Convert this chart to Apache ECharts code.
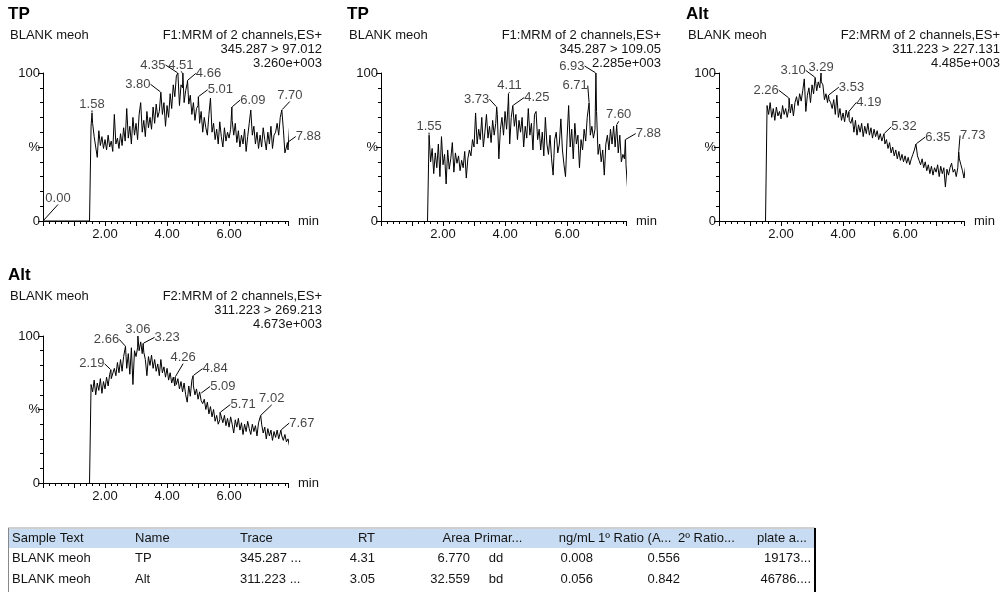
<!DOCTYPE html>
<html><head><meta charset="utf-8">
<script src="https://cdn.jsdelivr.net/npm/echarts@6/dist/echarts.min.js"></script>
<style>html,body{margin:0;padding:0;background:#fff}#c{width:1003px;height:596px}</style>
</head><body><div id="c"></div>
<script>
// ---------- DATA ----------
const scanTimes = [
1.50,1.55,1.60,1.65,1.70,1.75,1.80,1.85,1.90,1.95,
2.00,2.05,2.10,2.15,2.20,2.25,2.30,2.35,2.40,2.45,
2.50,2.55,2.60,2.65,2.70,2.75,2.80,2.85,2.90,2.95,
3.00,3.05,3.10,3.15,3.20,3.25,3.30,3.35,3.40,3.45,
3.50,3.55,3.60,3.65,3.70,3.75,3.80,3.85,3.90,3.95,
4.00,4.05,4.10,4.15,4.20,4.25,4.30,4.35,4.40,4.45,
4.50,4.55,4.60,4.65,4.70,4.75,4.80,4.85,4.90,4.95,
5.00,5.05,5.10,5.15,5.20,5.25,5.30,5.35,5.40,5.45,
5.50,5.55,5.60,5.65,5.70,5.75,5.80,5.85,5.90,5.95,
6.00,6.05,6.10,6.15,6.20,6.25,6.30,6.35,6.40,6.45,
6.50,6.55,6.60,6.65,6.70,6.75,6.80,6.85,6.90,6.95,
7.00,7.05,7.10,7.15,7.20,7.25,7.30,7.35,7.40,7.45,
7.50,7.55,7.60,7.65,7.70,7.75,7.80,7.85,7.90,7.95];

// TP 345.287 > 97.012 (% of 3.260e+003)
const tp97 = [
0,64,66,57,50,43,61,51,57,49,
55,48,58,50,54,47,72,52,56,49,
59,51,63,54,76,56,64,52,70,58,
66,55,72,80,60,68,57,74,63,70,
62,77,66,79,70,74,87,72,80,64,
78,70,86,76,92,84,98,100,78,92,
90,80,88,93,79,85,72,80,68,76,
78,66,74,60,70,63,58,72,83,60,
66,55,62,52,67,57,50,63,54,60,
56,62,68,58,66,53,61,50,58,52,
62,47,57,66,75,58,64,52,60,49,
58,50,63,55,48,60,52,64,49,58,
60,66,58,70,75,62,46,50,48,64];
const tp97PeakTimes  = [0.00,1.58,3.80,4.35,4.51,4.66,5.01,6.09,7.70,7.88];
const tp97PeakValues = [0,73,87,100,100,95,84,77,75,53];

// TP 345.287 > 109.05 (% of 2.285e+003)
const tp109 = [
0,58,40,49,32,46,36,52,30,57,
38,45,25,48,35,42,53,33,46,39,
44,34,41,36,47,29,42,48,44,55,
50,73,52,62,55,70,50,60,72,56,
64,53,68,58,66,72,42,62,70,58,
74,62,80,52,70,78,64,72,55,68,
60,70,50,64,56,76,58,66,48,72,
74,55,62,48,60,44,70,52,45,58,
42,31,55,60,46,52,69,48,38,30,
56,78,50,62,42,66,52,58,36,55,
48,62,54,70,70,58,64,56,62,74,
45,52,40,48,31,52,58,48,62,52,
64,50,65,46,58,40,45,42,38,22];
const tp109PeakTimes  = [1.55,3.73,4.11,4.25,6.71,6.93,7.60,7.88];
const tp109PeakValues = [58,77,86,78,80,100,65,55];

// Alt 311.223 > 227.131 (% of 4.485e+003)
const alt227 = [
0,78,72,80,70,76,68,77,71,74,
69,78,72,76,70,76,73,79,71,80,
84,78,86,81,88,96,74,85,90,80,
92,86,97,88,94,90,94,92,82,86,
80,82,80,76,82,72,85,70,76,68,
73,67,75,70,68,66,70,60,68,58,
65,60,66,57,64,59,66,58,63,56,
62,57,61,55,59,54,54,52,55,49,
53,46,50,44,48,42,47,41,45,40,
44,39,43,38,42,45,48,52,44,41,
38,42,36,40,34,38,32,37,31,36,
33,38,30,37,32,36,23,35,31,36,
39,33,35,30,36,42,38,34,29,37];
const alt227PeakTimes  = [2.26,3.10,3.29,3.53,4.19,5.32,6.35,7.73];
const alt227PeakValues = [83,97,100,85,74,59,52,47];

// Alt 311.223 > 269.213 (% of 4.673e+003)
const alt269 = [
0,67,62,70,60,68,63,71,61,69,
64,72,66,74,71,70,78,73,82,75,
84,76,86,85,78,88,74,92,67,90,
86,92,90,96,88,89,84,73,86,80,
87,78,84,76,81,73,84,75,79,72,
78,70,75,68,72,66,67,71,64,69,
62,68,60,55,66,59,70,66,60,64,
57,62,56,54,57,50,55,47,52,45,
50,42,46,40,43,45,41,46,39,44,
38,45,40,34,43,38,44,36,41,33,
40,35,42,37,33,40,35,39,32,41,
40,40,34,38,30,37,32,36,29,35,
31,36,30,31,32,29,33,28,30,25];
const alt269PeakTimes  = [2.19,2.66,3.06,3.23,4.26,4.84,5.09,5.71,7.02,7.67];
const alt269PeakValues = [77,93,100,95,72,73,61,48,46,36];

const xTickValues = [2, 4, 6];
const xTickLabels = ['2.00', '4.00', '6.00'];
const yTickValues = [0, 50, 100];
const yTickLabels = ['0', '%', '100'];

const panelTitles = ['TP', 'TP', 'Alt', 'Alt'];
const panelSamples = ['BLANK meoh', 'BLANK meoh', 'BLANK meoh', 'BLANK meoh'];
const panelFunctions = ['F1:MRM of 2 channels,ES+', 'F1:MRM of 2 channels,ES+', 'F2:MRM of 2 channels,ES+', 'F2:MRM of 2 channels,ES+'];
const panelTransitions = ['345.287 > 97.012', '345.287 > 109.05', '311.223 > 227.131', '311.223 > 269.213'];
const panelIntensities = ['3.260e+003', '2.285e+003', '4.485e+003', '4.673e+003'];

const tableHeader = ['Sample Text', 'Name', 'Trace', 'RT', 'Area', 'Primar...', 'ng/mL', '1º Ratio (A...', '2º Ratio...', 'plate a...'];
const tableRows = [
  ['BLANK meoh', 'TP', '345.287 ...', '4.31', '6.770', 'dd', '0.008', '0.556', '', '19173...'],
  ['BLANK meoh', 'Alt', '311.223 ...', '3.05', '32.559', 'bd', '0.056', '0.842', '', '46786....']
];

// ---------- LAYOUT / STYLE ----------
const FONT = "'Liberation Sans', Arial, sans-serif";
const TXT = '#141414';
const traces = [
  {values: tp97, pt: tp97PeakTimes, pv: tp97PeakValues},
  {values: tp109, pt: tp109PeakTimes, pv: tp109PeakValues},
  {values: alt227, pt: alt227PeakTimes, pv: alt227PeakValues},
  {values: alt269, pt: alt269PeakTimes, pv: alt269PeakValues}
];
const gridPos = [
  {left: 43, top: 73, height: 148, titleX: 8, rightX: 322, headY: 14},
  {left: 381, top: 73, height: 148, titleX: 347, rightX: 661, headY: 14},
  {left: 719, top: 73, height: 148, titleX: 686, rightX: 1000, headY: 14},
  {left: 43, top: 336, height: 147, titleX: 8, rightX: 322, headY: 275}
];
const PLOT_W = 245;
const labelOffsets = [
  [[15,-23],[0,-9],[-23,-8],[-25,-8],[-2,-8],[21,-7],[22,-7],[21,-7],[8,-15],[21,-6]],
  [[0,-9],[-20,-8],[1,-8],[24,-8],[-14,-17],[-24,-7],[2,-10],[23,-6]],
  [[-23,-8],[-22,-7],[0,-6],[23,-8],[20,-9],[20,-7],[22,-7],[14,-16]],
  [[-19,-6],[-19,-7],[0,-7],[24,-6],[8,-20],[22,-7],[22,-7],[23,-8],[11,-17],[21,-7]]
];
const tableCols = [
  {x: 12, align: 'left'}, {x: 135, align: 'left'}, {x: 240, align: 'left'},
  {x: 375, align: 'right'}, {x: 470, align: 'right'}, {x: 474, align: 'left', rowX: 496, rowAlign: 'center'},
  {x: 595, align: 'right', rowX: 593}, {x: 598, align: 'left', rowX: 680, rowAlign: 'right'},
  {x: 678, align: 'left'}, {x: 757, align: 'left', rowX: 811, rowAlign: 'right'}
];

function buildTrace(t) {
  const pts = scanTimes.map((x, i) => [x, t.values[i]]);
  t.pt.forEach((x, i) => {
    const j = pts.findIndex(p => Math.abs(p[0] - x) < 0.001);
    if (j >= 0) pts[j] = [x, t.pv[i]]; else pts.push([x, t.pv[i]]);
  });
  pts.sort((a, b) => a[0] - b[0]);
  return pts;
}

const grids = [], xAxes = [], yAxes = [], series = [], graphics = [];
traces.forEach((t, i) => {
  const g = gridPos[i];
  grids.push({left: g.left, top: g.top, width: PLOT_W, height: g.height, outerBoundsMode: 'none', containLabel: false});
  xAxes.push({
    type: 'value', gridIndex: i, min: 0, max: 7.9, interval: 1,
    axisLine: {show: true, onZero: false, lineStyle: {color: '#000', width: 1}},
    axisTick: {show: true, length: 5, lineStyle: {color: '#000'}},
    minorTick: {show: true, splitNumber: 5, length: 3, lineStyle: {color: '#000'}},
    splitLine: {show: false}, minorSplitLine: {show: false},
    axisLabel: {interval: 0, margin: 7, color: TXT, fontSize: 13, fontFamily: FONT,
      formatter: v => { const k = xTickValues.findIndex(x => Math.abs(x - v) < 1e-6); return k >= 0 ? xTickLabels[k] : ''; }},
    name: 'min', nameLocation: 'end', nameGap: 10,
    nameTextStyle: {color: TXT, fontSize: 13, fontFamily: FONT, verticalAlign: 'middle'}
  });
  yAxes.push({
    type: 'value', gridIndex: i, min: 0, max: 100, interval: 50,
    axisLine: {show: true, lineStyle: {color: '#000', width: 1}},
    axisTick: {show: true, length: 5, lineStyle: {color: '#000'}},
    minorTick: {show: true, splitNumber: 5, length: 3, lineStyle: {color: '#000'}},
    splitLine: {show: false}, minorSplitLine: {show: false},
    axisLabel: {margin: 3, color: TXT, fontSize: 13, fontFamily: FONT,
      formatter: v => { const k = yTickValues.indexOf(v); return k >= 0 ? yTickLabels[k] : ''; }}
  });
  series.push({
    type: 'line', xAxisIndex: i, yAxisIndex: i, data: buildTrace(t),
    symbol: 'none', showSymbol: false, clip: false, animation: false, silent: true,
    lineStyle: {color: '#000', width: 1}, z: 2
  });
  const offs = labelOffsets[i];
  series.push({
    type: 'scatter', xAxisIndex: i, yAxisIndex: i,
    data: t.pt.map((x, k) => [x, t.pv[k]]),
    symbol: 'circle', symbolSize: 1, itemStyle: {color: 'rgba(0,0,0,0)'},
    animation: false, silent: true, clip: false, z: 3,
    label: {show: true, position: 'top', formatter: p => p.value[0].toFixed(2),
      color: TXT, fontSize: 13, fontFamily: FONT},
    labelLine: {show: true, smooth: false, lineStyle: {color: '#000', width: 1}},
    labelLayout: p => {
      const o = offs[p.dataIndex] || [0, -9];
      const cx = p.rect.x + p.rect.width / 2, cy = p.rect.y + p.rect.height / 2;
      return {x: cx + o[0], y: cy + o[1], align: 'center', verticalAlign: 'middle', hideOverlap: false};
    }
  });
  // headers
  const hy = g.headY;
  graphics.push({type: 'text', style: {text: panelTitles[i], x: g.titleX, y: hy, font: 'bold 17px ' + FONT, fill: '#000', align: 'left', verticalAlign: 'middle'}});
  graphics.push({type: 'text', style: {text: panelSamples[i], x: g.titleX + 2, y: hy + 21, font: '13px ' + FONT, fill: TXT, align: 'left', verticalAlign: 'middle'}});
  graphics.push({type: 'text', style: {text: panelFunctions[i], x: g.rightX, y: hy + 21, font: '13px ' + FONT, fill: TXT, align: 'right', verticalAlign: 'middle'}});
  graphics.push({type: 'text', style: {text: panelTransitions[i], x: g.rightX, y: hy + 35, font: '13px ' + FONT, fill: TXT, align: 'right', verticalAlign: 'middle'}});
  graphics.push({type: 'text', style: {text: panelIntensities[i], x: g.rightX, y: hy + 49, font: '13px ' + FONT, fill: TXT, align: 'right', verticalAlign: 'middle'}});
});

// table
const TBL = {x0: 8, x1: 815, y0: 528, headH: 19, rowH: 21};
graphics.push({type: 'rect', shape: {x: TBL.x0 + 1, y: TBL.y0 + 1, width: TBL.x1 - TBL.x0 - 2, height: TBL.headH}, style: {fill: '#c7dcf3'}});
graphics.push({type: 'line', shape: {x1: TBL.x0, y1: TBL.y0, x2: TBL.x1, y2: TBL.y0}, style: {stroke: '#a0a0a0', lineWidth: 1}});
graphics.push({type: 'line', shape: {x1: TBL.x0 + 0.5, y1: TBL.y0, x2: TBL.x0 + 0.5, y2: 592}, style: {stroke: '#888', lineWidth: 1}});
graphics.push({type: 'line', shape: {x1: TBL.x1, y1: TBL.y0, x2: TBL.x1, y2: 592}, style: {stroke: '#000', lineWidth: 2}});
tableHeader.forEach((h, c) => {
  const col = tableCols[c];
  graphics.push({type: 'text', style: {text: h, x: col.x, y: TBL.y0 + 1 + TBL.headH / 2, font: '13px ' + FONT, fill: TXT, align: col.align, verticalAlign: 'middle'}});
});
tableRows.forEach((row, r) => {
  row.forEach((v, c) => {
    const col = tableCols[c];
    graphics.push({type: 'text', style: {text: v, x: col.rowX !== undefined ? col.rowX : col.x,
      y: TBL.y0 + 1 + TBL.headH + TBL.rowH * r + TBL.rowH / 2, font: '13px ' + FONT, fill: TXT,
      align: col.rowAlign || col.align, verticalAlign: 'middle'}});
  });
});

const chart = echarts.init(document.getElementById('c'), null, {renderer: 'canvas'});
chart.setOption({
  animation: false,
  backgroundColor: '#fff',
  grid: grids, xAxis: xAxes, yAxis: yAxes, series: series,
  graphic: {elements: graphics}
});
</script></body></html>
